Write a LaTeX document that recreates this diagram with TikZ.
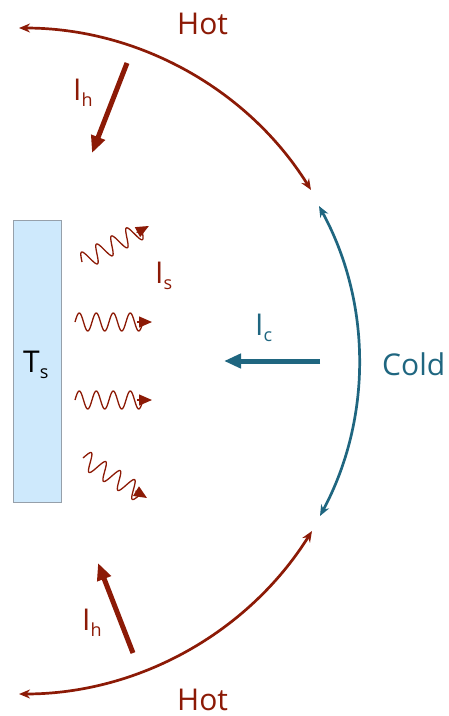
\documentclass[tikz,border=0pt]{standalone}
\usepackage{fontspec}
\setmainfont{Open Sans}
\usetikzlibrary{arrows.meta}
\definecolor{hotred}{RGB}{140,26,6}
\definecolor{coldteal}{RGB}{31,102,128}
\definecolor{plate}{RGB}{206,233,252}
\definecolor{plateedge}{RGB}{150,160,170}
\newcommand{\subx}[1]{\raisebox{-6pt}{\fontsize{18}{18}\selectfont #1}}
\tikzset{
  lbl/.style={inner sep=0pt, anchor=base west, font=\fontsize{30}{36}\selectfont},
  hotarc/.style={draw=hotred, line width=2.7pt, {Stealth[length=11pt,width=9pt]}-{Stealth[length=11pt,width=9pt]}},
  coldarc/.style={draw=coldteal, line width=2.7pt, {Stealth[length=11pt,width=9pt]}-{Stealth[length=11pt,width=9pt]}},
  bigarrow/.style={line width=5pt, -{Triangle[length=17pt,width=14pt]}},
  wavebody/.style={draw=hotred, line width=1.3pt, line join=round},
  wavetip/.style={draw=hotred, line width=1.3pt, -{Triangle[length=13pt,width=11pt]}}
}
\begin{document}
\begin{tikzpicture}[x=1pt,y=-1pt]
\useasboundingbox (0,0) rectangle (449,716);
% plate
\node[draw=plateedge, fill=plate, line width=1pt, minimum width=48pt, minimum height=282pt, inner sep=0pt] (plate) at (37,361) {};
\node[lbl, text=black] (ts) at (23,372) {T\subx{s}};
% arcs
\coordinate (htl) at (19,28);
\coordinate (htr) at (311,190);
\coordinate (hbl) at (19,694);
\coordinate (hbr) at (312,531);
\coordinate (ct) at (319,206);
\coordinate (cb) at (320,516);
\draw[hotarc] (htl) .. controls (138,28) and (248,89) .. (htr);
\draw[hotarc] (hbl) .. controls (138,694) and (248,633) .. (hbr);
\draw[coldarc] (ct) .. controls (372,303) and (372,419) .. (cb);
% labels
\node[lbl, text=hotred] (hottop) at (177,34) {Hot};
\node[lbl, text=hotred] (hotbot) at (177,710) {Hot};
\node[lbl, text=coldteal] (cold) at (382,375) {Cold};
% I_h arrows
\coordinate (iht1) at (127,63);
\coordinate (iht2) at (92,153);
\coordinate (ihb1) at (133,653);
\coordinate (ihb2) at (98,563);
\draw[bigarrow, hotred] (iht1) -- (iht2);
\draw[bigarrow, hotred] (ihb1) -- (ihb2);
\node[lbl, text=hotred] (ihtop) at (73,100) {I\subx{h}};
\node[lbl, text=hotred] (ihbot) at (82,630) {I\subx{h}};
% I_c arrow
\coordinate (ic1) at (320,361);
\coordinate (ic2) at (224,361);
\draw[bigarrow, coldteal] (ic1) -- (ic2);
\node[lbl, text=coldteal] (iclbl) at (255,335) {I\subx{c}};
% waves (start point, rotation, length)
\coordinate (w1a) at (82,262);
\coordinate (w2a) at (75,322);
\coordinate (w3a) at (75,400);
\coordinate (w4a) at (83,458);
\foreach \w/\ang/\len in {w1/28.3/76, w2/0/77, w3/0/77, w4/-32/75.5}{
  \begin{scope}[shift={(\w a)}, rotate=\ang]
    \draw[wavebody] plot[domain=0:68, samples=97, smooth] (\x, {-9*sin(\x*21.1765)});
    \coordinate (\w t) at (62,0);
    \coordinate (\w b) at (\len,0);
    \draw[wavetip] (\w t) -- (\w b);
  \end{scope}
}
\node[lbl, text=hotred] (islbl) at (155,283) {I\subx{s}};
\end{tikzpicture}
\end{document}
